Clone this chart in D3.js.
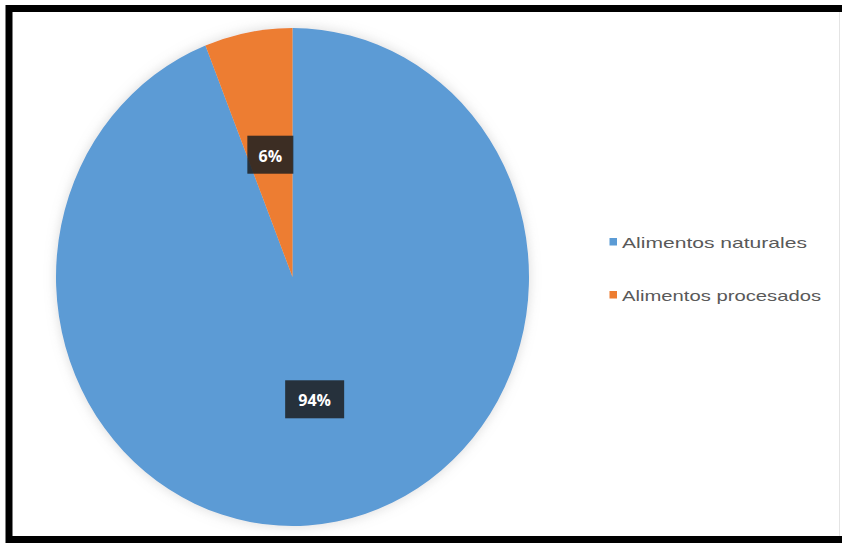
<!DOCTYPE html>
<html>
<head>
<meta charset="utf-8">
<script src="https://cdn.jsdelivr.net/npm/d3@7"></script>
<style>
  html, body { margin: 0; padding: 0; background: #ffffff; overflow: hidden; }
  svg { display: block; }
</style>
</head>
<body>
<svg id="chart" width="842" height="544"></svg>
<script>
// Food consumption split
const categories = ["Alimentos naturales", "Alimentos procesados"];
const values = [94, 6];
const colors = ["#5B9BD5", "#ED7D31"];

const width = 842, height = 544;
const svg = d3.select("#chart");

// Chart frame: open on the right, where the chart runs past the edge
svg.append("rect")
  .attr("x", 0).attr("y", 0).attr("width", width).attr("height", height)
  .attr("fill", "#ffffff");
svg.append("line")
  .attr("x1", 839.5).attr("x2", 839.5).attr("y1", 12).attr("y2", 536)
  .attr("stroke", "#e4e4e4").attr("stroke-width", 1);
svg.append("path")
  .attr("d", `M${width + 10},8.5 H9 V539.5 H${width + 10}`)
  .attr("fill", "none").attr("stroke", "#000").attr("stroke-width", 7);

// Soft shadow around the pie
const defs = svg.append("defs");
const f = defs.append("filter").attr("id", "glow")
  .attr("x", "-20%").attr("y", "-20%").attr("width", "140%").attr("height", "140%");
f.append("feGaussianBlur").attr("in", "SourceAlpha").attr("stdDeviation", 6).attr("result", "b");
f.append("feFlood").attr("flood-color", "#a0a0a0").attr("flood-opacity", 0.4).attr("result", "c");
f.append("feComposite").attr("in", "c").attr("in2", "b").attr("operator", "in").attr("result", "s");
const fm = f.append("feMerge");
fm.append("feMergeNode").attr("in", "s");
fm.append("feMergeNode").attr("in", "SourceGraphic");

const cx = 292.5, cy = 277, rx = 236.5, ry = 249;
const ky = ry / rx;

const pie = d3.pie().sort(null).value(d => d);
const arcs = pie(values);
const arc = d3.arc().innerRadius(0).outerRadius(rx);

const g = svg.append("g")
  .attr("transform", `translate(${cx},${cy}) scale(1,${ky})`)
  .attr("filter", "url(#glow)");
g.selectAll("path.slice")
  .data(arcs)
  .join("path")
  .attr("class", "slice")
  .attr("d", arc)
  .attr("fill", (d, i) => colors[i]);

// Data labels in dark boxes
const lbl = svg.append("g");
arcs.forEach((d, i) => {
  const [lx, ly] = arc.centroid(d);
  const x = cx + lx, y = cy + ly * ky;
  const text = values[i] + "%";
  const w = text.length === 2 ? 46 : 59, h = 38;
  lbl.append("rect")
    .attr("x", x - w / 2).attr("y", y - h / 2)
    .attr("width", w).attr("height", h)
    .attr("fill", "#1c1e21").attr("fill-opacity", 0.85);
  lbl.append("text")
    .attr("x", x).attr("y", y + 1)
    .attr("text-anchor", "middle")
    .attr("dominant-baseline", "central")
    .attr("font-family", "'Open Sans', 'Liberation Sans', sans-serif")
    .attr("font-weight", "bold")
    .attr("font-size", 16)
    .attr("fill", "#ffffff")
    .text(text);
});

// Legend
const legend = svg.append("g");
const legendY = d3.scaleBand().domain(categories).range([216, 322]).paddingInner(0);
categories.forEach((c, i) => {
  const y = legendY(c) + legendY.bandwidth() / 2 - 0.5;
  legend.append("rect")
    .attr("x", 609.5).attr("y", y - 4)
    .attr("width", 7.5).attr("height", 7.5)
    .attr("fill", colors[i]);
  legend.append("text")
    .attr("x", 622).attr("y", y)
    .attr("dominant-baseline", "central")
    .attr("font-family", "'Liberation Sans', Arial, sans-serif")
    .attr("font-size", 15)
    .attr("fill", "#595959")
    .attr("textLength", i === 0 ? 185 : 199)
    .attr("lengthAdjust", "spacingAndGlyphs")
    .text(c);
});
</script>
</body>
</html>
